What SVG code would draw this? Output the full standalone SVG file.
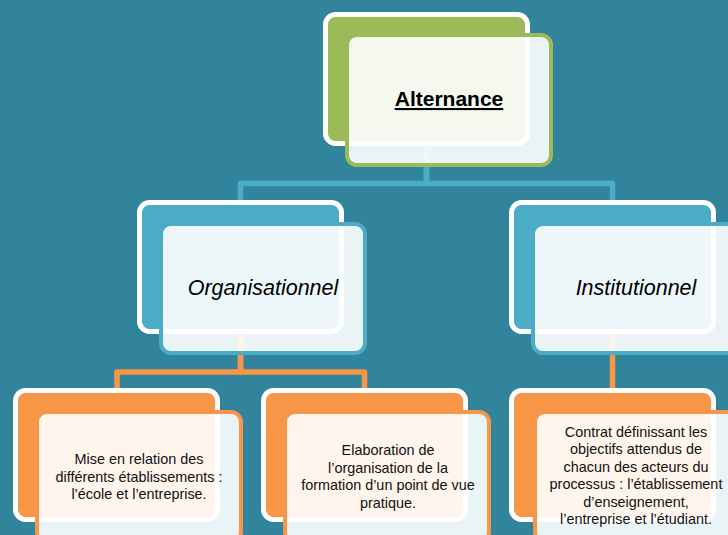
<svg xmlns="http://www.w3.org/2000/svg" width="728" height="535" viewBox="0 0 728 535">
  <style>
    .back { stroke: #ffffff; stroke-width: 5; }
    .front { fill: #ffffff; fill-opacity: 0.9; stroke-width: 4; }
    .green { fill: #9BBB59; }
    .blue { fill: #4BACC6; }
    .orange { fill: #F79646; }
    .s-green { stroke: #9BBB59; }
    .s-blue { stroke: #4BACC6; }
    .s-orange { stroke: #F79646; }
    .link { fill: none; stroke-width: 5.5; stroke-linejoin: round; }
    .title { font-family: "Liberation Sans", Arial, sans-serif; font-size: 21px; font-weight: bold; text-anchor: middle; fill: #000; text-decoration: underline; }
    .mid { font-family: "Liberation Sans", Arial, sans-serif; font-size: 21.5px; font-style: italic; text-anchor: middle; fill: #000; }
    .leaf { font-family: "Liberation Sans", Arial, sans-serif; font-size: 14.4px; text-anchor: middle; fill: #111; }
  </style>

  <rect x="0" y="0" width="728" height="535" fill="#31849B"/>

  <!-- connectors, drawn beneath the boxes -->
  <g id="connectors">
    <path class="link s-blue" d="M426.5,146 V183.5 H240.5 V202"/>
    <path class="link s-blue" d="M426.5,146 V183.5 H612.5 V202"/>
    <path class="link s-orange" d="M240.5,334 V372 H117 V390"/>
    <path class="link s-orange" d="M240.5,334 V372 H364.5 V390"/>
    <path class="link s-orange" d="M612.5,334 V390"/>
  </g>

  <g id="alternance">
    <rect class="back green" x="325.5" y="14.5" width="202" height="129" rx="10"/>
    <rect class="front s-green" x="347" y="35" width="204" height="130" rx="10"/>
    <text class="title" x="449" y="106">Alternance</text>
  </g>

  <g id="organisationnel">
    <rect class="back blue" x="139.5" y="202.5" width="202" height="129" rx="10"/>
    <rect class="front s-blue" x="161" y="224" width="204" height="129" rx="10"/>
    <text class="mid" x="263" y="295">Organisationnel</text>
  </g>

  <g id="institutionnel">
    <rect class="back blue" x="511.5" y="202.5" width="202" height="129" rx="10"/>
    <rect class="front s-blue" x="533" y="224" width="204" height="129" rx="10"/>
    <text class="mid" x="636" y="295">Institutionnel</text>
  </g>

  <g id="mise-en-relation">
    <rect class="back orange" x="15.5" y="390.5" width="202" height="129" rx="10"/>
    <rect class="front s-orange" x="37" y="412" width="204" height="130" rx="10"/>
    <text class="leaf" x="139" y="464">Mise en relation des</text>
    <text class="leaf" x="139" y="481.5">différents établissements :</text>
    <text class="leaf" x="139" y="499">l’école et l’entreprise.</text>
  </g>

  <g id="elaboration">
    <rect class="back orange" x="263.5" y="390.5" width="202" height="129" rx="10"/>
    <rect class="front s-orange" x="285" y="412" width="204" height="130" rx="10"/>
    <text class="leaf" x="388" y="455">Elaboration de</text>
    <text class="leaf" x="388" y="472.5">l’organisation de la</text>
    <text class="leaf" x="388" y="490">formation d’un point de vue</text>
    <text class="leaf" x="388" y="507.5">pratique.</text>
  </g>

  <g id="contrat">
    <rect class="back orange" x="511.5" y="390.5" width="202" height="129" rx="10"/>
    <rect class="front s-orange" x="535" y="412" width="204" height="130" rx="10"/>
    <text class="leaf" x="636" y="436.5">Contrat définissant les</text>
    <text class="leaf" x="636" y="454">objectifs attendus de</text>
    <text class="leaf" x="636" y="471.5">chacun des acteurs du</text>
    <text class="leaf" x="636" y="489">processus : l’établissement</text>
    <text class="leaf" x="636" y="506.5">d’enseignement,</text>
    <text class="leaf" x="636" y="524">l’entreprise et l’étudiant.</text>
  </g>
</svg>
